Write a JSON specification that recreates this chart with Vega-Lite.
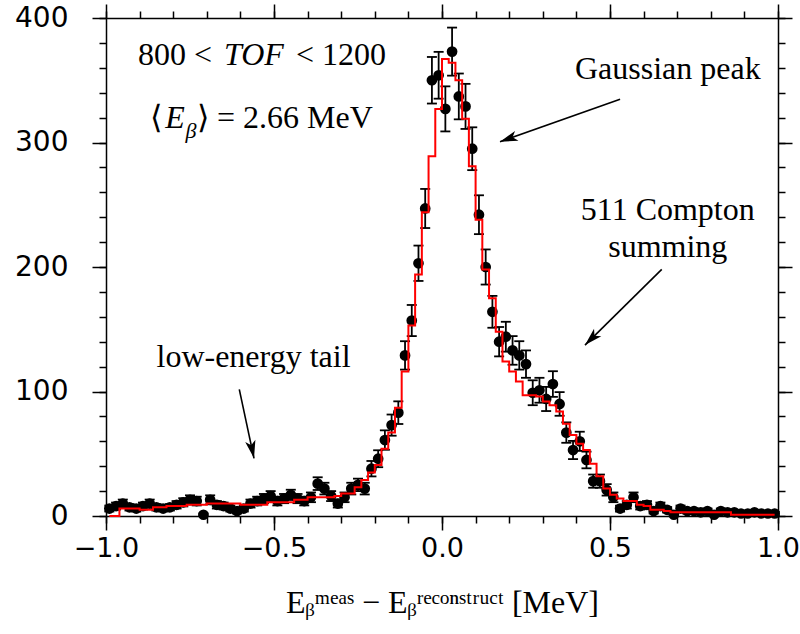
{
  "$schema": "https://vega.github.io/schema/vega-lite/v6.json",
  "width": 672,
  "height": 498,
  "autosize": {"type": "none"},
  "padding": {"left": 106, "top": 18, "right": 22, "bottom": 118},
  "background": "white",
  "config": {
    "view": {"stroke": null},
    "axis": {"grid": false, "domainColor": "black", "domainWidth": 1.5, "tickColor": "black", "tickWidth": 1.5, "labelColor": "black", "titleColor": "black", "labelFlush": false, "labelOverlap": false, "labelBound": false}
  },
  "datasets": {
    "bins": [
      {"e": -0.99, "count": 6, "err": 2.4, "fit": 0},
      {"e": -0.97, "count": 8, "err": 2.8, "fit": 0},
      {"e": -0.95, "count": 10, "err": 3.2, "fit": 6},
      {"e": -0.93, "count": 7, "err": 2.6, "fit": 6},
      {"e": -0.91, "count": 6, "err": 2.4, "fit": 6},
      {"e": -0.89, "count": 8, "err": 2.8, "fit": 5},
      {"e": -0.87, "count": 10, "err": 3.2, "fit": 5},
      {"e": -0.85, "count": 7, "err": 2.6, "fit": 7},
      {"e": -0.83, "count": 6, "err": 2.4, "fit": 7},
      {"e": -0.81, "count": 7, "err": 2.6, "fit": 8},
      {"e": -0.79, "count": 9, "err": 3.0, "fit": 8},
      {"e": -0.77, "count": 11, "err": 3.3, "fit": 8},
      {"e": -0.75, "count": 13, "err": 3.6, "fit": 9},
      {"e": -0.73, "count": 12, "err": 3.5, "fit": 9},
      {"e": -0.71, "count": 1, "err": 1.0, "fit": 9},
      {"e": -0.69, "count": 13, "err": 3.6, "fit": 10},
      {"e": -0.67, "count": 9, "err": 3.0, "fit": 10},
      {"e": -0.65, "count": 8, "err": 2.8, "fit": 10},
      {"e": -0.63, "count": 6, "err": 2.4, "fit": 10},
      {"e": -0.61, "count": 4, "err": 2.0, "fit": 10},
      {"e": -0.59, "count": 6, "err": 2.4, "fit": 9},
      {"e": -0.57, "count": 10, "err": 3.2, "fit": 9},
      {"e": -0.55, "count": 12, "err": 3.5, "fit": 9},
      {"e": -0.53, "count": 14, "err": 3.7, "fit": 9},
      {"e": -0.51, "count": 16, "err": 4.0, "fit": 11},
      {"e": -0.49, "count": 12, "err": 3.5, "fit": 11},
      {"e": -0.47, "count": 14, "err": 3.7, "fit": 11},
      {"e": -0.45, "count": 17, "err": 4.1, "fit": 11},
      {"e": -0.43, "count": 14, "err": 3.7, "fit": 13},
      {"e": -0.41, "count": 12, "err": 3.5, "fit": 13},
      {"e": -0.39, "count": 15, "err": 3.9, "fit": 15},
      {"e": -0.37, "count": 26, "err": 5.1, "fit": 15},
      {"e": -0.35, "count": 22, "err": 4.7, "fit": 15},
      {"e": -0.33, "count": 16, "err": 4.0, "fit": 15},
      {"e": -0.31, "count": 10, "err": 3.2, "fit": 16},
      {"e": -0.29, "count": 15, "err": 3.9, "fit": 18},
      {"e": -0.27, "count": 22, "err": 4.7, "fit": 18},
      {"e": -0.25, "count": 25, "err": 5.0, "fit": 23},
      {"e": -0.23, "count": 22, "err": 4.7, "fit": 29},
      {"e": -0.21, "count": 38, "err": 6.2, "fit": 35},
      {"e": -0.19, "count": 46, "err": 6.8, "fit": 41},
      {"e": -0.17, "count": 61, "err": 7.8, "fit": 54},
      {"e": -0.15, "count": 73, "err": 8.5, "fit": 67},
      {"e": -0.13, "count": 83, "err": 9.1, "fit": 87},
      {"e": -0.11, "count": 129, "err": 11.4, "fit": 116},
      {"e": -0.09, "count": 157, "err": 12.5, "fit": 153},
      {"e": -0.07, "count": 203, "err": 14.2, "fit": 194},
      {"e": -0.05, "count": 247, "err": 15.7, "fit": 244},
      {"e": -0.03, "count": 350, "err": 18.7, "fit": 289},
      {"e": -0.01, "count": 354, "err": 18.8, "fit": 327},
      {"e": 0.01, "count": 327, "err": 18.1, "fit": 367},
      {"e": 0.03, "count": 373, "err": 19.3, "fit": 364},
      {"e": 0.05, "count": 337, "err": 18.4, "fit": 350},
      {"e": 0.07, "count": 329, "err": 18.1, "fit": 319},
      {"e": 0.09, "count": 295, "err": 17.2, "fit": 281},
      {"e": 0.11, "count": 242, "err": 15.6, "fit": 238},
      {"e": 0.13, "count": 200, "err": 14.1, "fit": 198},
      {"e": 0.15, "count": 164, "err": 12.8, "fit": 175},
      {"e": 0.17, "count": 140, "err": 11.8, "fit": 148},
      {"e": 0.19, "count": 144, "err": 12.0, "fit": 124},
      {"e": 0.21, "count": 133, "err": 11.5, "fit": 116},
      {"e": 0.23, "count": 129, "err": 11.4, "fit": 108},
      {"e": 0.25, "count": 122, "err": 11.0, "fit": 97},
      {"e": 0.27, "count": 99, "err": 10.0, "fit": 97},
      {"e": 0.29, "count": 101, "err": 10.0, "fit": 96},
      {"e": 0.31, "count": 94, "err": 9.7, "fit": 92},
      {"e": 0.33, "count": 106, "err": 10.3, "fit": 89},
      {"e": 0.35, "count": 90, "err": 9.5, "fit": 84},
      {"e": 0.37, "count": 67, "err": 8.2, "fit": 74},
      {"e": 0.39, "count": 53, "err": 7.3, "fit": 65},
      {"e": 0.41, "count": 60, "err": 7.7, "fit": 58},
      {"e": 0.43, "count": 45, "err": 6.7, "fit": 53},
      {"e": 0.45, "count": 28, "err": 5.3, "fit": 42},
      {"e": 0.47, "count": 28, "err": 5.3, "fit": 32},
      {"e": 0.49, "count": 21, "err": 4.6, "fit": 22},
      {"e": 0.51, "count": 15, "err": 3.9, "fit": 17},
      {"e": 0.53, "count": 6, "err": 2.4, "fit": 14},
      {"e": 0.55, "count": 9, "err": 3.0, "fit": 12},
      {"e": 0.57, "count": 15, "err": 3.9, "fit": 12},
      {"e": 0.59, "count": 8, "err": 2.8, "fit": 9},
      {"e": 0.61, "count": 9, "err": 3.0, "fit": 8},
      {"e": 0.63, "count": 4, "err": 2.0, "fit": 5},
      {"e": 0.65, "count": 8, "err": 2.8, "fit": 5},
      {"e": 0.67, "count": 5, "err": 2.2, "fit": 4},
      {"e": 0.69, "count": 1, "err": 1.0, "fit": 3},
      {"e": 0.71, "count": 6, "err": 2.4, "fit": 3},
      {"e": 0.73, "count": 4, "err": 2.0, "fit": 3},
      {"e": 0.75, "count": 4, "err": 2.0, "fit": 3},
      {"e": 0.77, "count": 3, "err": 1.7, "fit": 3},
      {"e": 0.79, "count": 4, "err": 2.0, "fit": 3},
      {"e": 0.81, "count": 1, "err": 1.0, "fit": 3},
      {"e": 0.83, "count": 4, "err": 2.0, "fit": 3},
      {"e": 0.85, "count": 3, "err": 1.7, "fit": 3},
      {"e": 0.87, "count": 3, "err": 1.7, "fit": 1},
      {"e": 0.89, "count": 2, "err": 1.4, "fit": 1},
      {"e": 0.91, "count": 2, "err": 1.4, "fit": 1},
      {"e": 0.93, "count": 3, "err": 1.7, "fit": 1},
      {"e": 0.95, "count": 2, "err": 1.4, "fit": 1},
      {"e": 0.97, "count": 2, "err": 1.4, "fit": 1},
      {"e": 0.99, "count": 2, "err": 1.4, "fit": 1}
    ],
    "labelsCenter": [
      {"x": 0.672, "y": 351, "text": "Gaussian peak"},
      {"x": 0.672, "y": 237.8, "text": "511 Compton"},
      {"x": 0.672, "y": 208, "text": "summing"},
      {"x": -0.561, "y": 119.7, "text": "low-energy tail"}
    ],
    "labelsLeft": [
      {"x": -0.9048, "y": 362, "text": "800 <"},
      {"x": -0.4345, "y": 362, "text": "< 1200"},
      {"x": -0.869, "y": 311.6, "text": "⟨"},
      {"x": -0.7292, "y": 311.6, "text": "⟩ = 2.66 MeV"}
    ],
    "labelsItalic": [
      {"x": -0.6488, "y": 362, "text": "TOF"},
      {"x": -0.824, "y": 311.6, "text": "E"}
    ],
    "labelsSub": [
      {"x": -0.7634, "y": 303.6, "text": "β"}
    ],
    "arrows": [
      {"x": 0.53, "y": 334.7, "x2": 0.1726, "y2": 300.6, "angle": 250.5},
      {"x": 0.654, "y": 198.1, "x2": 0.4256, "y2": 137.3, "angle": 225.4},
      {"x": -0.6033, "y": 101.7, "x2": -0.5595, "y2": 46.3, "angle": 168}
    ]
  },
  "resolve": {"axis": {"x": "independent", "y": "independent"}},
  "layer": [
    {
      "data": {"name": "bins"},
      "mark": {"type": "errorbar", "color": "black", "opacity": 1, "ticks": {"size": 10, "thickness": 1.8, "color": "black", "opacity": 1}, "rule": {"strokeWidth": 1.8, "color": "black", "opacity": 1}},
      "encoding": {
        "x": {"field": "e", "type": "quantitative", "scale": {"domain": [-1, 1], "nice": false, "zero": false},
          "axis": {"orient": "bottom", "values": [-1, -0.5, 0, 0.5, 1], "format": ".1f", "tickSize": 14, "labelFont": "DejaVu Sans", "labelFontSize": 27, "labelPadding": 5, "domain": true,
            "title": "Eᵦᵐᵉᵃˢ − Eᵦʳᵉᶜᵒⁿˢᵗʳᵘᶜᵗ [MeV]", "titleFont": "Liberation Serif", "titleFontSize": 32, "titleFontWeight": "normal", "titlePadding": 26}},
        "y": {"field": "count", "type": "quantitative", "scale": {"domain": [0, 400], "nice": false},
          "axis": {"orient": "left", "values": [0, 100, 200, 300, 400], "tickSize": 14, "labelFont": "DejaVu Sans", "labelFontSize": 28, "labelPadding": 24, "title": null, "domain": true}},
        "yError": {"field": "err"}
      }
    },
    {
      "data": {"name": "bins"},
      "mark": {"type": "circle", "size": 115, "color": "black", "opacity": 1},
      "encoding": {
        "x": {"field": "e", "type": "quantitative", "scale": {"domain": [-1, 1], "nice": false, "zero": false},
          "axis": {"orient": "bottom", "values": [-1, -0.9, -0.8, -0.7, -0.6, -0.5, -0.4, -0.3, -0.2, -0.1, 0, 0.1, 0.2, 0.3, 0.4, 0.5, 0.6, 0.7, 0.8, 0.9, 1], "labels": false, "tickSize": 7, "domain": false, "title": null}},
        "y": {"field": "count", "type": "quantitative", "scale": {"domain": [0, 400], "nice": false},
          "axis": {"orient": "left", "values": [0, 20, 40, 60, 80, 100, 120, 140, 160, 180, 200, 220, 240, 260, 280, 300, 320, 340, 360, 380, 400], "labels": false, "tickSize": 7, "domain": false, "title": null}}
      }
    },
    {
      "data": {"name": "bins"},
      "mark": {"type": "line", "interpolate": "step", "color": "#ff0000", "strokeWidth": 2},
      "encoding": {
        "x": {"field": "e", "type": "quantitative", "scale": {"domain": [-1, 1], "nice": false, "zero": false},
          "axis": {"orient": "top", "values": [-1, -0.5, 0, 0.5, 1], "labels": false, "tickSize": 14, "domain": true, "title": null}},
        "y": {"field": "fit", "type": "quantitative", "scale": {"domain": [0, 400], "nice": false},
          "axis": {"orient": "right", "values": [0, 100, 200, 300, 400], "labels": false, "tickSize": 14, "domain": true, "title": null}}
      }
    },
    {
      "data": {"name": "labelsCenter"},
      "mark": {"type": "text", "font": "Liberation Serif", "fontSize": 32, "align": "center", "baseline": "alphabetic", "color": "black"},
      "encoding": {
        "x": {"field": "x", "type": "quantitative", "scale": {"domain": [-1, 1], "nice": false, "zero": false},
          "axis": {"orient": "top", "values": [-1, -0.9, -0.8, -0.7, -0.6, -0.5, -0.4, -0.3, -0.2, -0.1, 0, 0.1, 0.2, 0.3, 0.4, 0.5, 0.6, 0.7, 0.8, 0.9, 1], "labels": false, "tickSize": 7, "domain": false, "title": null}},
        "y": {"field": "y", "type": "quantitative", "scale": {"domain": [0, 400], "nice": false},
          "axis": {"orient": "right", "values": [0, 20, 40, 60, 80, 100, 120, 140, 160, 180, 200, 220, 240, 260, 280, 300, 320, 340, 360, 380, 400], "labels": false, "tickSize": 7, "domain": false, "title": null}},
        "text": {"field": "text"}
      }
    },
    {
      "data": {"name": "labelsLeft"},
      "mark": {"type": "text", "font": "Liberation Serif", "fontSize": 32, "align": "left", "baseline": "alphabetic", "color": "black"},
      "encoding": {
        "x": {"field": "x", "type": "quantitative", "scale": {"domain": [-1, 1], "nice": false, "zero": false}, "axis": null},
        "y": {"field": "y", "type": "quantitative", "scale": {"domain": [0, 400], "nice": false}, "axis": null},
        "text": {"field": "text"}
      }
    },
    {
      "data": {"name": "labelsItalic"},
      "mark": {"type": "text", "font": "Liberation Serif", "fontSize": 32, "fontStyle": "italic", "align": "left", "baseline": "alphabetic", "color": "black"},
      "encoding": {
        "x": {"field": "x", "type": "quantitative", "scale": {"domain": [-1, 1], "nice": false, "zero": false}, "axis": null},
        "y": {"field": "y", "type": "quantitative", "scale": {"domain": [0, 400], "nice": false}, "axis": null},
        "text": {"field": "text"}
      }
    },
    {
      "data": {"name": "labelsSub"},
      "mark": {"type": "text", "font": "Liberation Serif", "fontSize": 22, "fontStyle": "italic", "align": "left", "baseline": "alphabetic", "color": "black"},
      "encoding": {
        "x": {"field": "x", "type": "quantitative", "scale": {"domain": [-1, 1], "nice": false, "zero": false}, "axis": null},
        "y": {"field": "y", "type": "quantitative", "scale": {"domain": [0, 400], "nice": false}, "axis": null},
        "text": {"field": "text"}
      }
    },
    {
      "data": {"name": "arrows"},
      "mark": {"type": "rule", "color": "black", "strokeWidth": 1.6},
      "encoding": {
        "x": {"field": "x", "type": "quantitative", "scale": {"domain": [-1, 1], "nice": false, "zero": false}, "axis": null},
        "y": {"field": "y", "type": "quantitative", "scale": {"domain": [0, 400], "nice": false}, "axis": null},
        "x2": {"field": "x2"},
        "y2": {"field": "y2"}
      }
    },
    {
      "data": {"name": "arrows"},
      "mark": {"type": "point", "shape": "M0,0L0.7,2.4L0,1.8L-0.7,2.4Z", "filled": true, "size": 220, "color": "black", "opacity": 1},
      "encoding": {
        "x": {"field": "x2", "type": "quantitative", "scale": {"domain": [-1, 1], "nice": false, "zero": false}, "axis": null},
        "y": {"field": "y2", "type": "quantitative", "scale": {"domain": [0, 400], "nice": false}, "axis": null},
        "angle": {"field": "angle", "type": "quantitative", "scale": null}
      }
    }
  ]
}
